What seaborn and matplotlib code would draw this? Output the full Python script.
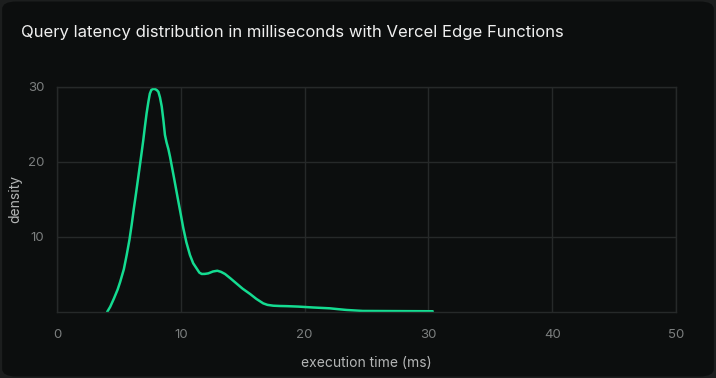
import numpy as np
import pandas as pd
import matplotlib
matplotlib.use("Agg")
import matplotlib.pyplot as plt
import seaborn as sns
from matplotlib.patches import FancyBboxPatch

# Density curve (execution time in ms -> density)
exec_time = [4.05, 4.3, 4.6, 4.9, 5.1, 5.4, 5.63, 5.85, 6.03, 6.2, 6.4,
             6.6, 6.8, 6.97, 7.1, 7.24, 7.38, 7.5, 7.62, 7.78, 7.95,
             8.08, 8.19, 8.32, 8.46, 8.6, 8.72, 8.85, 9.0, 9.13, 9.45, 9.75,
             10.0, 10.2, 10.45, 10.74, 11.0, 11.28, 11.5, 11.69, 11.95,
             12.22, 12.6, 12.95, 13.25, 13.57, 14.0, 14.5, 15.0, 15.6, 16.1,
             16.66, 17.0, 17.47, 18.0, 18.55, 19.5, 20.7, 22.05, 22.7, 23.4,
             24.7, 27.4, 30.35]
density = [0.0, 0.7, 1.8, 3.0, 4.0, 5.7, 7.6, 9.6, 11.6, 13.7, 16.0,
           18.4, 20.8, 22.9, 24.7, 26.5, 28.0, 29.1, 29.6, 29.75, 29.7,
           29.55, 29.35, 28.6, 27.4, 25.5, 23.6, 22.6, 21.7, 20.7, 17.9, 15.2,
           13.0, 11.2, 9.3, 7.6, 6.5, 5.8, 5.25, 5.07, 5.08,
           5.15, 5.4, 5.5, 5.35, 5.07, 4.5, 3.8, 3.1, 2.4, 1.75,
           1.15, 0.95, 0.84, 0.8, 0.78, 0.72, 0.6, 0.49, 0.38, 0.27,
           0.14, 0.12, 0.1]

x_ticks = [0, 10, 20, 30, 40, 50]
y_ticks = [10, 20, 30]
title = "Query latency distribution in milliseconds with Vercel Edge Functions"

card = "#0c0e0e"
grid = "#262929"
line_color = "#14dc91"

sns.set_style("dark")
plt.rcParams['font.family'] = ['Inter', 'DejaVu Sans']

fig = plt.figure(figsize=(7.16, 3.78), dpi=100)
fig.patch.set_facecolor("#1c1e1e")

# rounded dark card behind everything
bg = fig.add_axes([0, 0, 1, 1], zorder=-5)
bg.set_axis_off()
bg.add_patch(FancyBboxPatch((0.003, 0.004), 0.994, 0.992,
                            boxstyle="round,pad=0,rounding_size=0.02",
                            transform=bg.transAxes, facecolor=card,
                            edgecolor="none"))

ax = fig.add_axes([0.0796, 0.1746, 0.8645, 0.5954])
ax.set_facecolor(card)

df = pd.DataFrame({"execution time (ms)": exec_time, "density": density})
sns.lineplot(data=df, x="execution time (ms)", y="density", ax=ax,
             color=line_color, linewidth=1.8, solid_joinstyle="round",
             solid_capstyle="round")

ax.set_xlim(0, 50)
ax.set_ylim(0, 30)
ax.set_xticks(x_ticks)
ax.set_yticks(y_ticks)
ax.grid(True, color=grid, linewidth=1)
for s in ax.spines.values():
    s.set_visible(True)
    s.set_color(grid)
    s.set_linewidth(1)
ax.tick_params(length=0, colors="#7c7f7f", labelsize=9.5)
ax.tick_params(axis="x", pad=12)
ax.tick_params(axis="y", pad=9)
ax.set_xlabel("execution time (ms)", color="#b4b6b6", fontsize=10)
ax.set_ylabel("density", color="#b4b6b6", fontsize=10)
ax.xaxis.set_label_coords(0.5, -0.196)
ax.yaxis.set_label_coords(-0.0565, 0.5)

fig.text(0.029, 0.915, title, color="#f0f0f0", fontsize=12,
         ha="left", va="center")

fig.savefig("out.png", dpi=100, facecolor=fig.get_facecolor())
